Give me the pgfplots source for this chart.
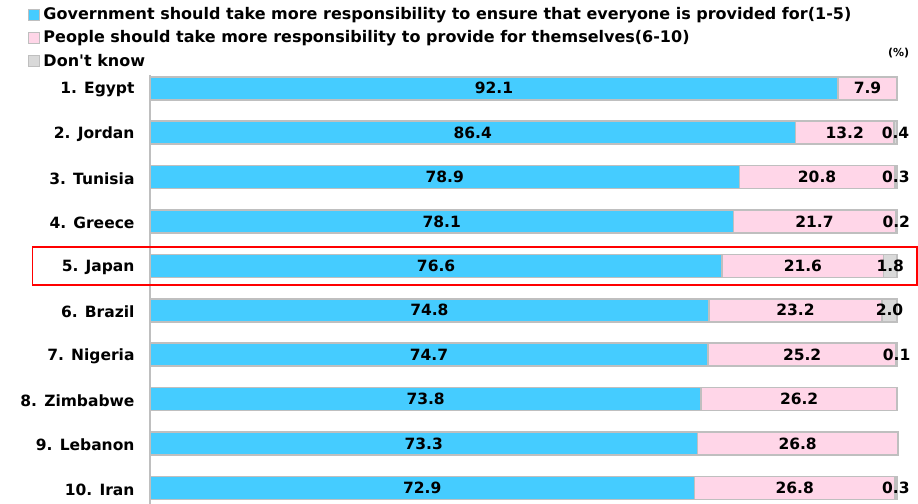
\documentclass[border=0pt]{standalone}
\usepackage{pgfplots}
\pgfplotsset{compat=1.18}
\usepackage{pgfplotstable}
\usepackage{fontspec}
\setmainfont{DejaVu Sans}
\definecolor{govc}{RGB}{69,204,255}
\definecolor{pplc}{RGB}{255,214,232}
\definecolor{dkc}{RGB}{217,217,217}
\definecolor{edgec}{RGB}{191,191,191}
\pgfplotstableread{
idx gov ppl dk
0 92.1 7.9 0
1 86.4 13.2 0.4
2 78.9 20.8 0.3
3 78.1 21.7 0.2
4 76.6 21.6 1.8
5 74.8 23.2 2.0
6 74.7 25.2 0.1
7 73.8 26.2 0
8 73.3 26.8 0
9 72.9 26.8 0.3
}\data
\begin{document}
\begin{tikzpicture}
\useasboundingbox (-150pt,0pt) rectangle (768pt,503.5pt);
\begin{axis}[
 at={(0pt,0pt)}, anchor=south west,
 scale only axis, width=747pt, height=428.5pt,
 xbar stacked, bar width=23pt,
 xmin=0, xmax=100, ymin=-0.3, ymax=9.35, y dir=reverse,
 axis x line=none, axis y line*=left,
 y axis line style={draw=edgec, line width=1.5pt, -},
 ytick={0,...,9},
 yticklabels={1. Egypt,2. Jordan,3. Tunisia,4. Greece,5. Japan,6. Brazil,7. Nigeria,8. Zimbabwe,9. Lebanon,10. Iran},
 major tick length=0pt,
 yticklabel style={xshift=-12pt, yshift=-1.5pt, font=\fontsize{15.5}{18}\selectfont\bfseries},
 clip=false,
 /pgf/number format/.cd, fixed, fixed zerofill, precision=1, assume math mode=true, /pgfplots/.cd,
 nodes near coords={\pgfmathfloatifflags{\pgfplotspointmeta}{0}{}{\pgfmathprintnumber{\pgfplotspointmeta}}},
 every node near coord/.append style={font=\fontsize{15.5}{18}\selectfont\bfseries, text=black, anchor=center},
 legend style={at={(-0.164,1.16)}, anchor=north west, draw=none, fill=none,
   font=\fontsize{16}{19}\selectfont\bfseries, row sep=7.5pt, column sep=3pt, inner sep=0pt, nodes={inner sep=1pt}},
 legend cell align=left,
 legend image code/.code={\draw[#1, line width=0.8pt] (0pt,-5.5pt) rectangle (11pt,5.5pt);},
]
\addplot[fill=govc, draw=edgec, line width=1.6pt, point meta=explicit]
  table[x=gov, y=idx, meta=gov]{\data};
\addlegendentry{Government should take more responsibility to ensure that everyone is provided for(1-5)}
\addplot[fill=pplc, draw=edgec, line width=1.6pt, point meta=explicit]
  table[x=ppl, y=idx, meta=ppl]{\data};
\addlegendentry{People should take more responsibility to provide for themselves(6-10)}
\addplot[fill=dkc, draw=edgec, line width=1.6pt, point meta=explicit]
  table[x=dk, y=idx, meta=dk]{\data};
\addlegendentry{Don\textquotesingle t know}
\draw[red, line width=1.5pt] (axis cs:-15.7,3.57) rectangle (axis cs:102.7,4.43);
\node[anchor=east, font=\fontsize{11}{12}\selectfont\bfseries] at (axis description cs:1.021,1.052) {(\%)};
\end{axis}
\end{tikzpicture}
\end{document}
